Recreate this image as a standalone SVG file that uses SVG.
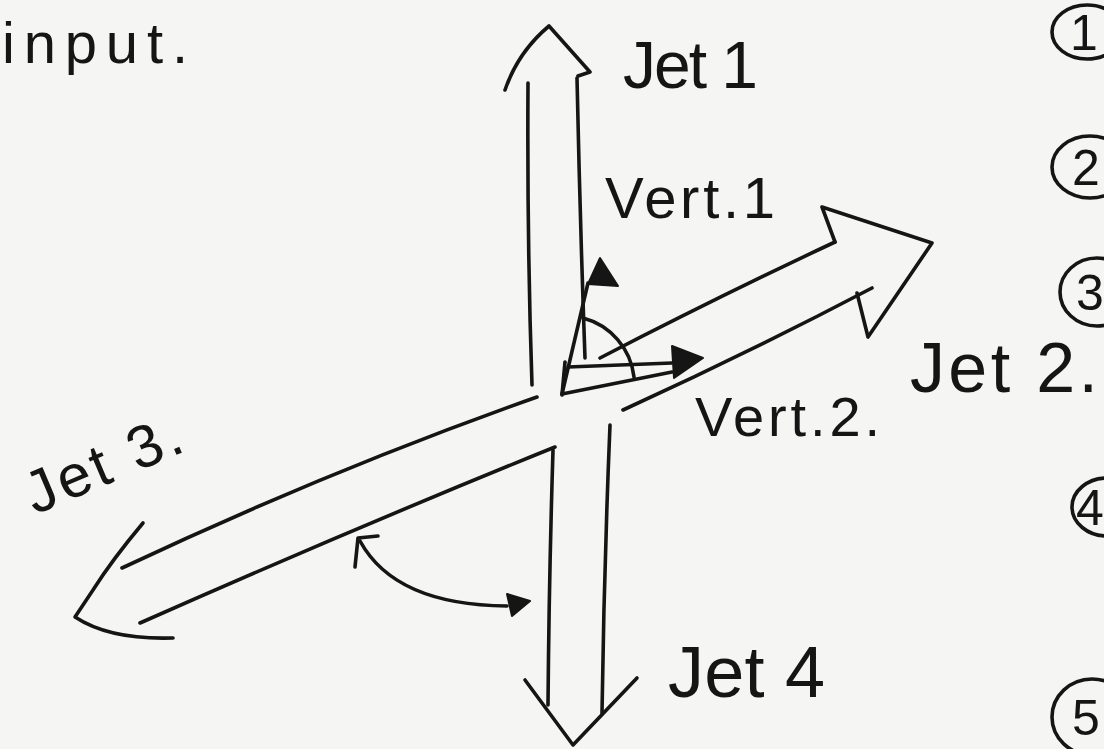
<svg xmlns="http://www.w3.org/2000/svg" width="1104" height="749" viewBox="0 0 1104 749">
<style>
.ln{fill:none;stroke:#151515;stroke-width:3.6;stroke-linecap:round;stroke-linejoin:round}
.fl{fill:#151515;stroke:#151515;stroke-width:2;stroke-linejoin:round}
.tx{font-family:"Liberation Sans","DejaVu Sans",sans-serif;fill:#151515}
.nm{font-family:"Liberation Sans","DejaVu Sans",sans-serif;fill:#151515;font-size:50px}
</style>
<rect width="1104" height="749" fill="#f5f5f3"/>
<g id="title"><text class="tx" x="2" y="63" font-size="58" textLength="186" lengthAdjust="spacing">input.</text></g>
<g id="jet1">
<path class="ln" d="M528,83 Q527,240 532,385"/>
<path class="ln" d="M577,78 Q580,220 585,358"/>
<path class="ln" d="M505,90 Q518,52 549,26 L590,72 L578,76"/>
<text class="tx" x="623" y="88" font-size="66" textLength="135" lengthAdjust="spacing">Jet 1</text>
</g>
<g id="jet2">
<path class="ln" d="M600,358 Q720,296 835,242"/>
<path class="ln" d="M623,410 Q750,352 872,288"/>
<path class="ln" d="M835,242 L822,207 L932,243 L868,337 L857,293"/>
<text class="tx" x="910" y="392" font-size="70" textLength="188" lengthAdjust="spacing">Jet 2.</text>
</g>
<g id="jet3">
<path class="ln" d="M537,397 Q330,470 122,568"/>
<path class="ln" d="M555,447 Q350,530 140,623"/>
<path class="ln" d="M143,523 Q112,560 93,590 L75,617 Q110,640 173,638"/>
<text class="tx" x="35" y="515" font-size="60" textLength="165" lengthAdjust="spacing" transform="rotate(-23 35 515)">Jet 3.</text>
</g>
<g id="jet4">
<path class="ln" d="M553,450 Q549,580 548,705"/>
<path class="ln" d="M610,425 Q604,570 602,713"/>
<path class="ln" d="M525,680 L573,745 L637,678"/>
<text class="tx" x="668" y="697" font-size="72" textLength="157" lengthAdjust="spacing">Jet 4</text>
</g>
<g id="vert1">
<text class="tx" x="605" y="218" font-size="58" textLength="170" lengthAdjust="spacing">Vert.1</text>
</g>
<g id="vert2">
<text class="tx" x="695" y="436" font-size="56" textLength="185" lengthAdjust="spacing">Vert.2.</text>
</g>
<g id="connectors">
<path class="ln" d="M562,394 L588,283"/>
<polygon class="fl" points="600,258 588,284 618,286"/>
<path class="ln" d="M565,362 L562,395"/>
<path class="ln" d="M568,367 L672,363"/>
<path class="ln" d="M562,394 L672,372"/>
<polygon class="fl" points="703,358 672,346 674,378"/>
<path class="ln" d="M583,318 A69,69 0 0 1 634,377"/>
<path class="ln" d="M355,567 L358,538 L378,536"/>
<path class="ln" d="M360,541 Q395,605 507,606"/>
<polygon class="fl" points="530,601 507,594 512,616"/>
</g>
<g id="n1"><ellipse class="ln" cx="1087" cy="32" rx="35" ry="27"/><text class="nm" x="1070" y="50">1</text></g>
<g id="n2"><ellipse class="ln" cx="1090" cy="167" rx="38" ry="31"/><text class="nm" x="1072" y="185">2</text></g>
<g id="n3"><ellipse class="ln" cx="1097" cy="292" rx="37" ry="34"/><text class="nm" x="1076" y="310">3</text></g>
<g id="n4"><ellipse class="ln" cx="1107" cy="507" rx="35" ry="29"/><text class="nm" x="1076" y="525">4</text></g>
<g id="n5"><ellipse class="ln" cx="1092" cy="717" rx="40" ry="38"/><text class="nm" x="1072" y="735">5</text></g>
</svg>
